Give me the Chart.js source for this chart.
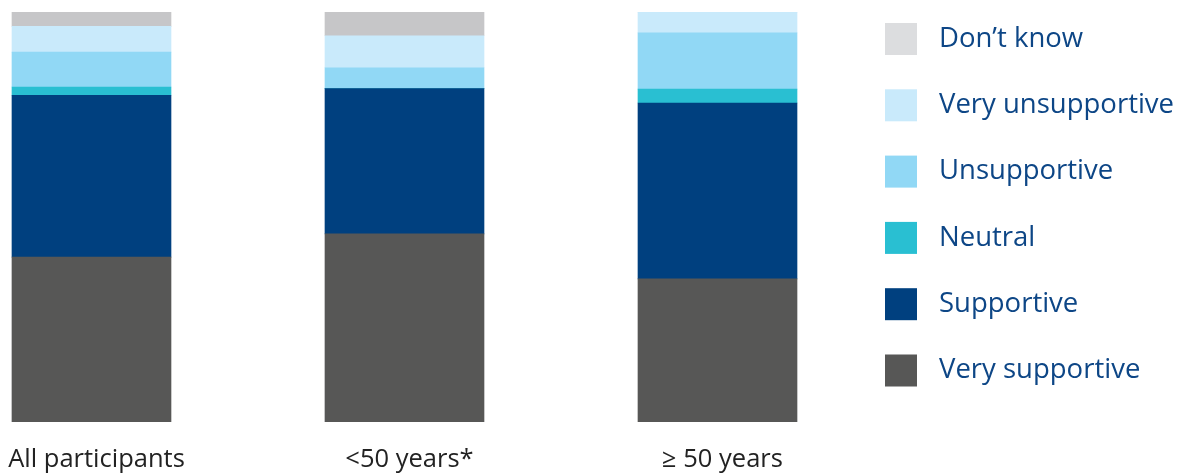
<!DOCTYPE html>
<html>
<head>
<meta charset="utf-8">
<script src="https://cdn.jsdelivr.net/npm/chart.js@4.4.0/dist/chart.umd.min.js"></script>
<style>
  html, body { margin: 0; padding: 0; background: #ffffff; }
  #wrap { width: 1184px; height: 473px; position: relative; }
</style>
</head>
<body>
<div id="wrap"><canvas id="c" width="1184" height="473"></canvas></div>
<script>
// Categories (x axis)
const categories = ['All participants', '<50 years*', '\u2265 50 years'];

// Series values (percent of respondents), bottom to top of each stack
const verySupportive   = [40.2, 45.9, 34.9];
const supportive       = [39.5, 35.4, 42.9];
const neutral          = [2.0, 0.0, 3.4];
const unsupportive     = [8.5, 5.1, 13.7];
const veryUnsupportive = [6.3, 7.8, 5.1];
const dontKnow         = [3.4, 5.9, 0.0];

// Series names
const seriesNames = ['Very supportive', 'Supportive', 'Neutral', 'Unsupportive', 'Very unsupportive', 'Don\u2019t know'];

const seriesValues = [verySupportive, supportive, neutral, unsupportive, veryUnsupportive, dontKnow];
const barColors    = ['#575756', '#00407f', '#29bfd2', '#91d8f5', '#c9eafb', '#c6c6c8'];
const legendColors = ['#575756', '#00407f', '#29bfd2', '#91d8f5', '#c9eafb', '#dcdddf'];

const FONT = '"Open Sans", "Noto Sans", sans-serif';

const datasets = seriesNames.map((name, s) => ({
  label: name,
  data: seriesValues[s].map((v, i) => ({ x: i, y: v })),
  backgroundColor: barColors[s],
  legendColor: legendColors[s],
  borderWidth: 0,
  barThickness: 159
}));

const sideLegend = {
  id: 'sideLegend',
  afterDraw(chart) {
    const ctx = chart.ctx;
    const ds = chart.data.datasets.slice().reverse();
    ctx.save();
    ctx.font = '27.5px ' + FONT;
    ctx.textBaseline = 'middle';
    ctx.textAlign = 'left';
    ds.forEach((d, k) => {
      const top = 23 + k * 66.3;
      ctx.fillStyle = d.legendColor;
      ctx.fillRect(885, top, 32, 32);
      ctx.fillStyle = '#0d4686';
      ctx.fillText(d.label, 939, top + 16);
    });
    ctx.restore();
  }
};

new Chart(document.getElementById('c'), {
  type: 'bar',
  data: { datasets },
  options: {
    responsive: false,
    animation: false,
    layout: { padding: { top: 12, left: 0, right: 310, bottom: 0 } },
    plugins: { legend: { display: false }, tooltip: { enabled: false } },
    scales: {
      x: {
        type: 'linear',
        stacked: true,
        offset: false,
        min: -0.2923,
        max: 2.5,
        grid: { display: false, drawTicks: false },
        border: { display: false },
        afterBuildTicks(scale) {
          scale.ticks = categories.map((_, i) => ({ value: i }));
        },
        afterFit(scale) {
          scale.height = 51;
          scale.paddingLeft = 0;
          scale.paddingRight = 0;
        },
        ticks: {
          padding: 22,
          labelOffset: 5,
          maxRotation: 0,
          autoSkip: false,
          color: '#222222',
          font: { family: FONT, size: 25.5 },
          callback: (v) => categories[v]
        }
      },
      y: {
        stacked: true,
        min: 0,
        max: 100,
        display: false
      }
    }
  },
  plugins: [sideLegend]
});
</script>
</body>
</html>
